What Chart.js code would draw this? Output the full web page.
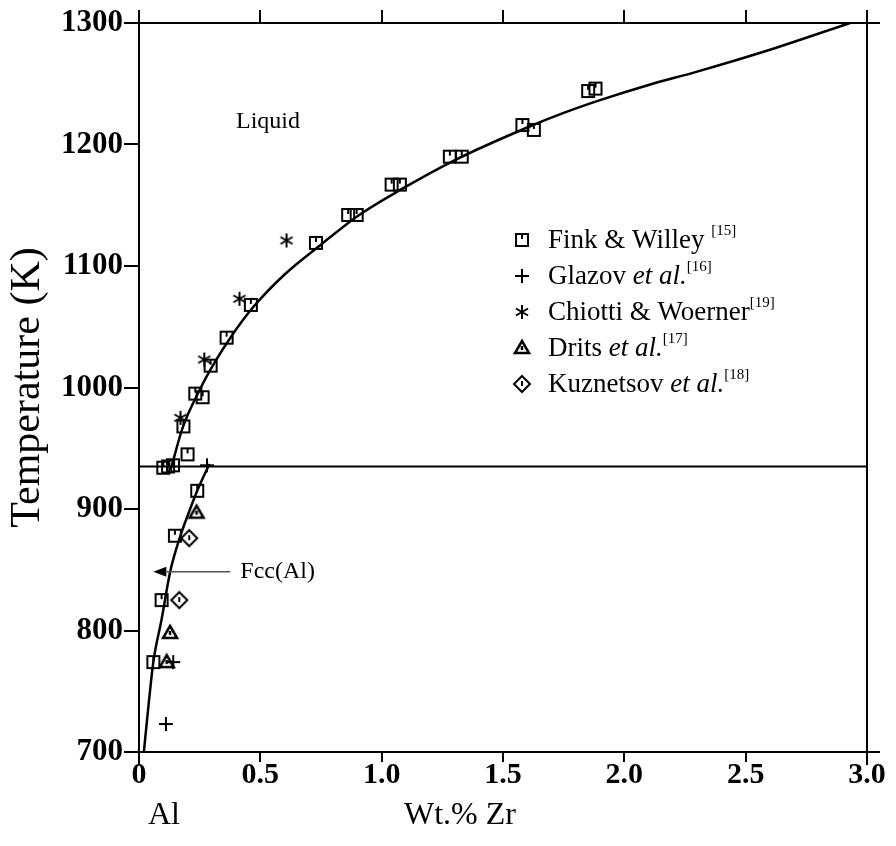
<!DOCTYPE html>
<html>
<head>
<meta charset="utf-8">
<script src="https://cdn.jsdelivr.net/npm/chart.js@4"></script>
<style>
  html, body {margin: 0; padding: 0; background: #fff;}
  #wrap {width: 896px; height: 846px;}
</style>
</head>
<body>
<div id="wrap"><canvas id="chart"></canvas></div>
<script>
// measured data, wt.% Zr vs temperature (K)
const finkX = [0.10, 0.12, 0.14, 0.20, 0.183, 0.232, 0.262, 0.295, 0.361, 0.461, 0.729, 0.862, 0.897, 1.041, 1.075, 1.281, 1.33, 1.58, 1.627, 1.851, 1.881, 0.24, 0.148, 0.093, 0.059];
const finkT = [934, 935, 936, 945, 968, 995, 992, 1018, 1041, 1068, 1119, 1142, 1142, 1167, 1167, 1190, 1190, 1216, 1212, 1244, 1246, 915, 878, 825, 774];
const glazovX = [0.111, 0.141, 0.28];
const glazovT = [723, 774, 936];
const chiottiX = [0.171, 0.269, 0.414, 0.608];
const chiottiT = [975, 1023, 1073, 1121];
const dritsX = [0.237, 0.128, 0.114];
const dritsT = [897, 798, 774];
const kuzX = [0.207, 0.166];
const kuzT = [876, 825];

// assessed phase boundaries
const liquidusX = [0.13, 0.18, 0.25, 0.31, 0.38, 0.47, 0.6, 0.74, 0.9, 1.08, 1.3, 1.6, 1.75, 1.9, 2.1, 2.3, 2.6, 2.93];
const liquidusT = [932, 967, 998, 1020, 1042, 1066, 1093, 1116, 1141, 1163, 1187, 1214, 1226, 1236.5, 1249, 1260, 1278, 1300];
const solvusX = [0.02, 0.04, 0.059, 0.093, 0.128, 0.169, 0.205, 0.24, 0.29];
const solvusT = [700, 740, 774, 809, 848, 877, 897, 915, 937];
const eutecticX = [0, 3];
const eutecticT = [935, 935];

const xTicks = [0, 0.5, 1.0, 1.5, 2.0, 2.5, 3.0];
const xTickLabels = ['0', '0.5', '1.0', '1.5', '2.0', '2.5', '3.0'];
const yTicks = [700, 800, 900, 1000, 1100, 1200, 1300];

const legendItems = [
  {kind: 'square', parts: [['Fink & Willey ', 'n'], ['[15]', 's']]},
  {kind: 'plus', parts: [['Glazov ', 'n'], ['et al.', 'i'], ['[16]', 's']]},
  {kind: 'star', parts: [['Chiotti & Woerner', 'n'], ['[19]', 's']]},
  {kind: 'triangle', parts: [['Drits ', 'n'], ['et al.', 'i'], ['[17]', 's']]},
  {kind: 'diamond', parts: [['Kuznetsov ', 'n'], ['et al.', 'i'], ['[18]', 's']]},
];

const SERIF = '"Liberation Serif", "DejaVu Serif", serif';

const zip = (xs, ys) => xs.map((x, i) => ({x, y: ys[i]}));

function marker(kind) {
  const c = document.createElement('canvas');
  c.width = 20;
  c.height = 20;
  const g = c.getContext('2d');
  g.strokeStyle = '#000';
  g.lineWidth = 2;
  g.translate(10, 10);
  g.beginPath();
  if (kind === 'square') {
    g.rect(-6, -6, 12, 12);
    g.moveTo(0, -6);
    g.lineTo(0, -1);
  } else if (kind === 'plus') {
    g.moveTo(-7, 0); g.lineTo(7, 0);
    g.moveTo(0, -7); g.lineTo(0, 7);
  } else if (kind === 'star') {
    for (let i = 0; i < 3; i++) {
      const a = Math.PI / 2 + i * Math.PI / 3;
      g.moveTo(-7 * Math.cos(a), -7 * Math.sin(a));
      g.lineTo(7 * Math.cos(a), 7 * Math.sin(a));
    }
  } else if (kind === 'triangle') {
    g.lineWidth = 2.5;
    g.moveTo(0, -7); g.lineTo(7, 5); g.lineTo(-7, 5); g.closePath();
    g.moveTo(0, -2); g.lineTo(0, 2);
  } else if (kind === 'diamond') {
    g.moveTo(0, -8); g.lineTo(8, 0); g.lineTo(0, 8); g.lineTo(-8, 0); g.closePath();
    g.moveTo(0, -3); g.lineTo(0, 2);
  }
  g.stroke();
  return c;
}

const markers = {};
['square', 'plus', 'star', 'triangle', 'diamond'].forEach(k => markers[k] = marker(k));

function richText(ctx, x, y, parts) {
  parts.forEach(([t, style]) => {
    if (style === 's') {
      ctx.font = '15px ' + SERIF;
      ctx.fillText(t, x, y - 10);
    } else {
      ctx.font = (style === 'i' ? 'italic ' : '') + '27px ' + SERIF;
      ctx.fillText(t, x, y);
    }
    x += ctx.measureText(t).width;
  });
}

const decorations = {
  id: 'decorations',
  afterDraw(chart) {
    const {ctx, chartArea: a, scales} = chart;
    const over = 13;
    ctx.save();
    ctx.strokeStyle = '#000';
    ctx.lineWidth = 2;
    ctx.beginPath();
    ctx.moveTo(a.left - over, a.top); ctx.lineTo(a.right + over, a.top);
    ctx.moveTo(a.left - over, a.bottom); ctx.lineTo(a.right + over, a.bottom);
    ctx.moveTo(a.left, a.top - over); ctx.lineTo(a.left, a.bottom + over);
    ctx.moveTo(a.right, a.top - over); ctx.lineTo(a.right, a.bottom + over);
    ctx.stroke();

    ctx.fillStyle = '#000';
    ctx.textBaseline = 'middle';

    // axis titles
    ctx.save();
    ctx.translate(28, (a.top + a.bottom) / 2);
    ctx.rotate(-Math.PI / 2);
    ctx.textAlign = 'center';
    ctx.font = '42px ' + SERIF;
    ctx.fillText('Temperature (K)', 0, 0);
    ctx.restore();

    ctx.font = '32px ' + SERIF;
    ctx.textAlign = 'left';
    ctx.fillText('Al', 148, 816);
    ctx.textAlign = 'center';
    ctx.fillText('Wt.% Zr', 460, 816);

    // region label
    ctx.textAlign = 'left';
    ctx.font = '24px ' + SERIF;
    ctx.fillText('Liquid', 236, 122);

    // Fcc(Al) pointer
    const tipX = scales.x.getPixelForValue(0.059);
    const tipY = scales.y.getPixelForValue(848.4);
    ctx.beginPath();
    ctx.moveTo(tipX, tipY);
    ctx.lineTo(tipX + 13, tipY - 5);
    ctx.lineTo(tipX + 13, tipY + 5);
    ctx.closePath();
    ctx.fill();
    ctx.strokeStyle = '#555';
    ctx.lineWidth = 1.5;
    ctx.beginPath();
    ctx.moveTo(tipX + 12, tipY);
    ctx.lineTo(tipX + 77, tipY);
    ctx.stroke();
    ctx.fillStyle = '#000';
    ctx.fillText('Fcc(Al)', tipX + 87, tipY);

    // legend
    legendItems.forEach((item, i) => {
      const y = 240 + i * 36;
      ctx.drawImage(markers[item.kind], 522 - 10, y - 10);
      ctx.textBaseline = 'middle';
      richText(ctx, 548, y + 1, item.parts);
    });
    ctx.restore();
  }
};

const tickGrid = len => ({
  drawOnChartArea: false,
  drawTicks: true,
  tickLength: len,
  color: '#000',
  lineWidth: 2,
});

new Chart(document.getElementById('chart'), {
  type: 'scatter',
  data: {
    datasets: [
      {data: zip(finkX, finkT), pointStyle: markers.square},
      {data: zip(glazovX, glazovT), pointStyle: markers.plus},
      {data: zip(chiottiX, chiottiT), pointStyle: markers.star},
      {data: zip(dritsX, dritsT), pointStyle: markers.triangle},
      {data: zip(kuzX, kuzT), pointStyle: markers.diamond},
      {data: zip(liquidusX, liquidusT), showLine: true, pointRadius: 0, borderColor: '#000', borderWidth: 2.5, cubicInterpolationMode: 'monotone'},
      {data: zip(solvusX, solvusT), showLine: true, pointRadius: 0, borderColor: '#000', borderWidth: 2.5, cubicInterpolationMode: 'monotone'},
      {data: zip(eutecticX, eutecticT), showLine: true, pointRadius: 0, borderColor: '#000', borderWidth: 2},
    ],
  },
  options: {
    responsive: true,
    maintainAspectRatio: false,
    animation: false,
    layout: {padding: {left: 0, right: 29, top: 0, bottom: 0}},
    plugins: {
      legend: {display: false},
      tooltip: {enabled: false},
    },
    scales: {
      x: {
        type: 'linear',
        position: 'bottom',
        min: 0,
        max: 3,
        afterBuildTicks: scale => { scale.ticks = xTicks.map(v => ({value: v})); },
        afterFit: scale => { scale.height = 94; },
        border: {display: false},
        grid: tickGrid(10),
        ticks: {
          color: '#000',
          padding: -5,
          font: {family: SERIF, size: 30, weight: 'bold'},
          maxRotation: 0,
          callback: v => xTickLabels[xTicks.indexOf(v)],
        },
      },
      x2: {
        type: 'linear',
        axis: 'x',
        position: 'top',
        min: 0,
        max: 3,
        afterBuildTicks: scale => { scale.ticks = xTicks.map(v => ({value: v})); },
        afterFit: scale => { scale.height = 23; },
        border: {display: false},
        grid: tickGrid(13),
        ticks: {display: false},
      },
      y: {
        type: 'linear',
        min: 700,
        max: 1300,
        afterBuildTicks: scale => { scale.ticks = yTicks.map(v => ({value: v})); },
        afterFit: scale => { scale.width = 139; },
        border: {display: false},
        grid: tickGrid(15),
        ticks: {
          color: '#000',
          padding: 1,
          font: {family: SERIF, size: 31, weight: 'bold'},
          callback: v => String(v),
        },
      },
    },
  },
  plugins: [decorations],
});
</script>
</body>
</html>
